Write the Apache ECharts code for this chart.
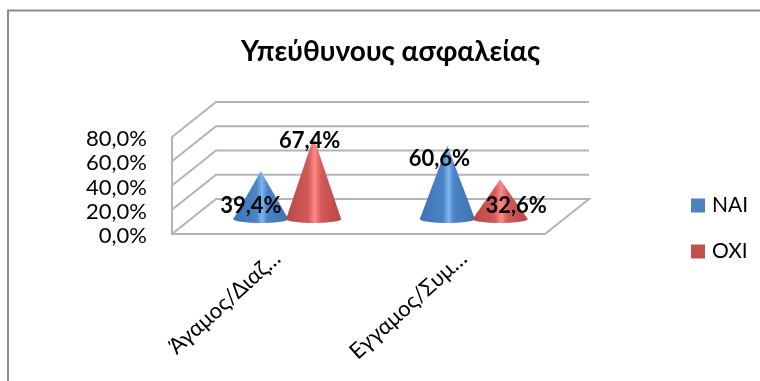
<!DOCTYPE html>
<html>
<head>
<meta charset="utf-8">
<style>html,body{margin:0;padding:0;background:#fff}#c{width:760px;height:381px}</style>
<script src="https://cdn.jsdelivr.net/npm/echarts@6/dist/echarts.min.js"></script>
</head>
<body>
<div id="c"></div>
<script>
const categories = ['Άγαμος/Διαζ…', 'Εγγαμος/Συμ…'];
const seriesNames = ['NAI', 'OXI'];
const valuesNai = [39.4, 60.6];
const valuesOxi = [67.4, 32.6];
const yTicks = [0, 20, 40, 60, 80];
const chartTitle = 'Υπεύθυνους ασφαλείας';

const FONT = 'Lato, "Noto Sans", sans-serif';
const DEPTH_X = 44, DEPTH_Y = 35;
const WALL = '#b4b4b4';
const pct = v => v.toFixed(1).replace('.', ',') + '%';

const chart = echarts.init(document.getElementById('c'), null, {renderer: 'canvas'});

function renderFrame(params, api) {
  const v = api.value(0);
  const cs = params.coordSys;
  const y = api.coord([0, v])[1];
  const x0 = cs.x, x1 = cs.x + cs.width;
  const style = {stroke: WALL, lineWidth: 2, fill: null};
  const pts = [[x0, y], [x0 + DEPTH_X, y - DEPTH_Y], [x1 + DEPTH_X, y - DEPTH_Y]];
  if (v === 0) pts.push([x1, y]);
  return {type: 'polyline', shape: {points: pts}, style};
}

function coneRenderer(side, stops, labelNudge) {
  return function (params, api) {
    const i = api.value(0), v = api.value(1);
    const band = api.size([1, 0])[0];
    const base = api.coord([i, 0]);
    const top = api.coord([i, v]);
    const cx = base[0] + DEPTH_X / 2 + side * band * 0.1415;
    const by = base[1] - 15;
    const ay = top[1] - 15;
    const rx = band * 0.1475, ry = 4;
    const fill = new echarts.graphic.LinearGradient(0, 0, 1, 0, stops);
    const n = labelNudge[i];
    return {type: 'group', children: [
      {type: 'ellipse', shape: {cx, cy: by, rx, ry}, style: {fill}},
      {type: 'polygon', shape: {points: [[cx - rx, by], [cx, ay], [cx + rx, by]]}, style: {fill}},
      {type: 'text', z2: 100, style: {
        x: cx + n[0], y: by + n[1], text: pct(v), align: 'center', verticalAlign: 'middle',
        fill: '#000', font: 'bold 22px ' + FONT}}
    ]};
  };
}

const blueStops = [
  {offset: 0, color: '#3f73b3'}, {offset: 0.42, color: '#4a83c6'},
  {offset: 0.52, color: '#7fb4ee'}, {offset: 0.62, color: '#4a83c6'}, {offset: 1, color: '#3c72b4'}];
const redStops = [
  {offset: 0, color: '#b84644'}, {offset: 0.4, color: '#d25a58'},
  {offset: 0.52, color: '#ff8a88'}, {offset: 0.64, color: '#d25a58'}, {offset: 1, color: '#b84644'}];

chart.setOption({
  animation: false,
  backgroundColor: '#fff',
  title: {
    text: chartTitle, left: 236, top: 33,
    textStyle: {fontFamily: FONT, fontWeight: 'bold', fontSize: 28, color: '#000'}
  },
  legend: {
    orient: 'vertical', left: 686, top: 190, itemWidth: 14, itemHeight: 14, itemGap: 25,
    data: seriesNames.map(n => ({name: n, icon: 'rect'})),
    textStyle: {fontFamily: FONT, fontSize: 21, color: '#000', padding: [0, 0, 0, 2]}
  },
  grid: {left: 172, right: 215, top: 137, bottom: 147, containLabel: false},
  xAxis: {
    type: 'category', data: categories,
    axisTick: {show: false},
    axisLine: {lineStyle: {color: WALL, width: 2}},
    axisLabel: {rotate: 42, interval: 0, margin: 32, padding: [0, -16, 0, 0], color: '#000', fontFamily: FONT, fontSize: 22}
  },
  yAxis: {
    type: 'value', min: 0, max: 80, interval: 20,
    splitLine: {show: false}, axisTick: {show: false},
    axisLine: {show: true, lineStyle: {color: WALL, width: 2}},
    axisLabel: {formatter: pct, margin: 25, verticalAlign: 'top', padding: [-9, 0, 0, 0], color: '#000', fontFamily: FONT, fontSize: 22}
  },
  graphic: [{
    type: 'rect', silent: true, z: -1,
    shape: {x: 8, y: 10.5, width: 900, height: 500},
    style: {fill: null, stroke: '#8c8c8c', lineWidth: 2}
  }],
  series: [
    {type: 'custom', name: 'frame', renderItem: renderFrame, data: yTicks.map(v => [v]), encode: {y: 0}, clip: false, silent: true, z: 1},
    {type: 'custom', name: seriesNames[0], itemStyle: {color: '#4f81bd'},
     renderItem: coneRenderer(-1, blueStops, [[-10, -13], [-8, -60]]),
     data: valuesNai.map((v, i) => [i, v]), encode: {x: 0, y: 1}, clip: false, z: 3},
    {type: 'custom', name: seriesNames[1], itemStyle: {color: '#c0504d'},
     renderItem: coneRenderer(1, redStops, [[-4, -78], [16, -13]]),
     data: valuesOxi.map((v, i) => [i, v]), encode: {x: 0, y: 1}, clip: false, z: 3}
  ]
});
</script>
</body>
</html>
